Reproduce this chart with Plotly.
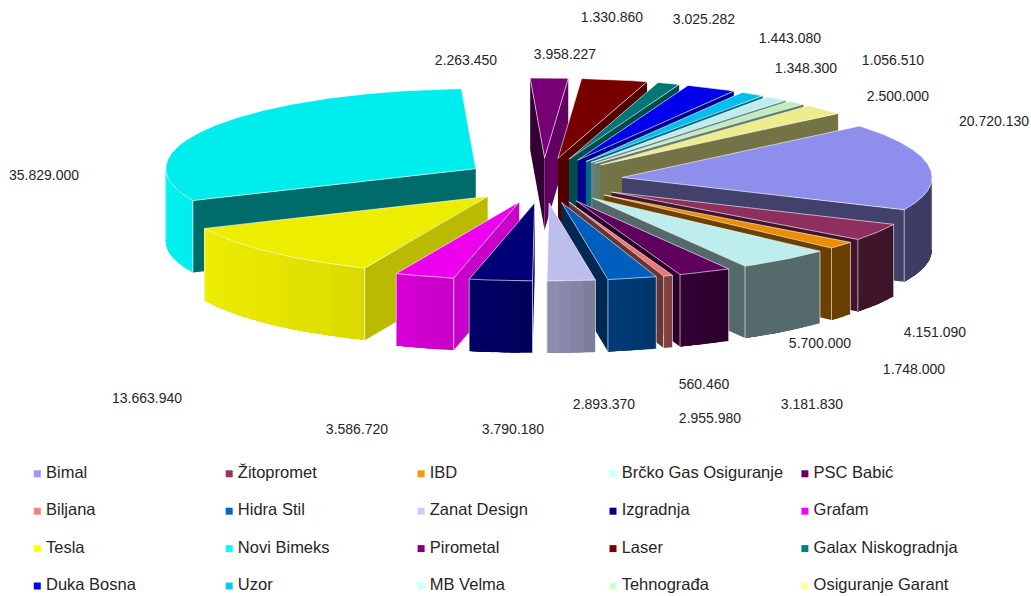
import numpy as np
import plotly.graph_objects as go

# ---- data ----
names = ["Bimal", "Žitopromet", "IBD", "Brčko Gas Osiguranje", "PSC Babić",
         "Biljana", "Hidra Stil", "Zanat Design", "Izgradnja", "Grafam",
         "Tesla", "Novi Bimeks", "Pirometal", "Laser", "Galax Niskogradnja",
         "Duka Bosna", "Uzor", "MB Velma", "Tehnograđa", "Osiguranje Garant"]
values = [20720130, 4151090, 1748000, 5700000, 3181830,
          560460, 2955980, 2893370, 3790180, 3586720,
          13663940, 35829000, 2263450, 3958227, 1330860,
          3025282, 1443080, 1348300, 1056510, 2500000]
colors = ["#9999FF", "#993366", "#FF9900", "#CCFFFF", "#660066",
          "#FF8080", "#0066CC", "#CCCCFF", "#000080", "#FF00FF",
          "#FFFF00", "#00FFFF", "#800080", "#800000", "#008080",
          "#0000FF", "#00CCFF", "#CCFFFF", "#CCFFCC", "#FFFF99"]

# ---- label placement ----
label_x = [994, 935, 914, 820, 812, 704, 710, 604, 513, 357,
           147, 44, 466, 565, 612, 704, 790, 806, 893, 898]
label_y = [122, 333, 370, 344, 405, 385, 419, 405, 430, 430,
           399, 176, 61, 55, 18, 20, 39, 69, 61, 97]

# ---- 3D projection settings ----
CX, CY = 543.4, 180.5
RX, RY_BACK, RY_FRONT = 310.0, 80.0, 78.0
EX, EY = 79.4, 22.5
DEPTH = 72.0
START = 50.0
TOP = 0.93


def rgb(c, k):
    return "rgb(%d,%d,%d)" % tuple(round(int(c[i:i + 2], 16) * k) for i in (1, 3, 5))


def outer_shade(t):
    return np.interp(t, [90, 115, 130, 150, 160, 170, 176, 190, 197, 205, 225, 245, 270],
                     [.38, .40, .41, .42, .5, .58, .66, .78, .8, .86, .9, .93, .95])


def start_shade(t):
    return np.interp(t % 360, [180, 205, 246, 360], [.85, .72, .42, .4])


def end_shade(t):
    return np.interp(t % 360, [0, 20, 50, 180], [.8, .6, .45, .4])


fig = go.Figure()


def poly(xs, ys, fill, line=None, width=0.0):
    fig.add_trace(go.Scatter(x=list(xs), y=list(ys), mode="lines", fill="toself",
                             fillcolor=fill, line=dict(color=line or fill, width=width),
                             hoverinfo="skip", showlegend=False))


def edge(xs, ys):
    fig.add_trace(go.Scatter(x=list(xs), y=list(ys), mode="lines",
                             line=dict(color="rgba(255,255,255,0.6)", width=1),
                             hoverinfo="skip", showlegend=False))


spans = np.array(values, dtype=float) / sum(values) * 360.0
starts = START + np.concatenate([[0], np.cumsum(spans)[:-1]])
mids = starts + spans / 2
order = np.argsort(-np.cos(np.radians(mids)))

for i in order:
    a, b, m, c = starts[i], starts[i] + spans[i], np.radians(mids[i]), colors[i]
    tx, ty = CX + EX * np.sin(m), CY - EY * np.cos(m)


    def px(t):
        return tx + RX * np.sin(np.radians(t))


    def py(t):
        k = np.cos(np.radians(t))
        return ty - np.where(k > 0, RY_BACK, RY_FRONT) * k


    # radial walls turned towards the viewer
    if np.sin(np.radians(a)) < 0:
        poly([tx, px(a), px(a), tx], [ty, py(a), py(a) + DEPTH, ty + DEPTH], rgb(c, start_shade(a)))
    if np.sin(np.radians(b)) > 0:
        poly([tx, px(b), px(b), tx], [ty, py(b), py(b) + DEPTH, ty + DEPTH], rgb(c, end_shade(b)))

    # curved outer wall: each band runs to the far end so no seams show
    lo, hi = max(a, 90.0), min(b, 270.0)
    if hi > lo:
        n = max(1, int(np.ceil((hi - lo) / 2.5)))
        cuts = np.linspace(lo, hi, n + 1)
        for s, e in zip(cuts[:-1], cuts[1:]):
            t = np.linspace(s, hi, 30)
            poly(np.r_[px(t), px(t[::-1])], np.r_[py(t), py(t[::-1]) + DEPTH],
                 rgb(c, outer_shade((s + e) / 2)))
        edge([px(lo), px(lo)], [py(lo), py(lo) + DEPTH])
        edge([px(hi), px(hi)], [py(hi), py(hi) + DEPTH])

    # top face
    t = np.linspace(a, b, max(3, int(spans[i] * 2)))
    poly(np.r_[tx, px(t), tx], np.r_[ty, py(t), ty], rgb(c, TOP),
         line="rgba(255,255,255,0.6)", width=1)

# value labels
fig.add_trace(go.Scatter(
    x=label_x, y=label_y, mode="text",
    text=[f"{v:,}".replace(",", ".") for v in values],
    textposition="middle center",
    textfont=dict(family="Liberation Sans", size=14, color="#262626"),
    hoverinfo="skip", showlegend=False, cliponaxis=False))

# legend rows, five columns
for i, (n, c) in enumerate(zip(names, colors)):
    row, col = divmod(i, 5)
    fig.add_trace(go.Scatter(
        x=[37.3 + 191.9 * col], y=[473.8 + 37.4 * row], mode="markers+text",
        marker=dict(symbol="square", size=7, color=c),
        text=["\u2009" + n], textposition="middle right",
        textfont=dict(family="Liberation Sans", size=16.5, color="#262626"),
        name=n, hoverinfo="skip", showlegend=False, cliponaxis=False))

fig.update_layout(
    width=1031, height=596, margin=dict(l=0, r=0, t=0, b=0),
    paper_bgcolor="white", plot_bgcolor="white", showlegend=False,
    xaxis=dict(range=[0, 1031], visible=False, fixedrange=True),
    yaxis=dict(range=[596, 0], visible=False, fixedrange=True),
)
fig.write_html("out.html", config=dict(displayModeBar=False),
               post_script="document.body.style.margin='0';document.documentElement.style.overflow='hidden';")
